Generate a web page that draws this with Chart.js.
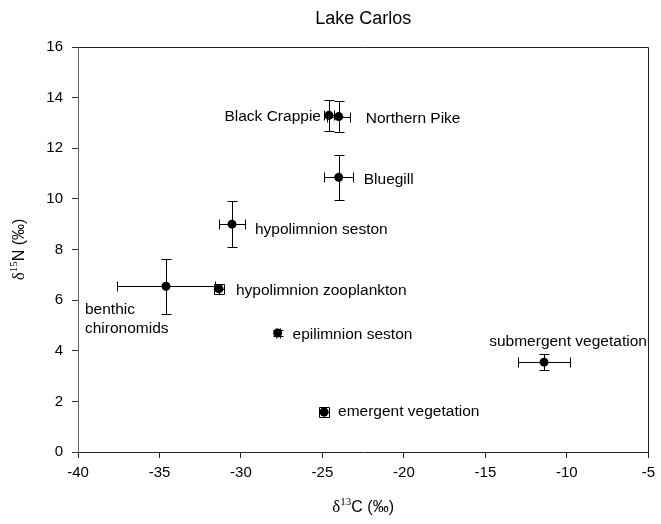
<!DOCTYPE html>
<html>
<head>
<meta charset="utf-8">
<script src="https://cdn.jsdelivr.net/npm/chart.js@4"></script>
<style>
  html, body { margin: 0; padding: 0; background: #fff; }
</style>
</head>
<body>
<canvas id="chart" width="661" height="524"></canvas>
<script>
// stable isotope means and spread per food web compartment
const groups = ['Black Crappie', 'Northern Pike', 'Bluegill', 'hypolimnion seston',
  'benthic\nchironomids', 'hypolimnion zooplankton', 'epilimnion seston',
  'submergent vegetation', 'emergent vegetation'];
const d13C = [-24.6, -24.0, -24.0, -30.55, -34.6, -31.35, -27.75, -11.4, -24.9];
const d15N = [13.3, 13.25, 10.85, 9.0, 6.55, 6.45, 4.7, 3.55, 1.58];
const d13CErr = [0.3, 0.7, 0.9, 0.8, 3.0, 0.3, 0.12, 1.6, 0.3];
const d15NErr = [0.6, 0.6, 0.9, 0.9, 1.08, 0.2, 0.12, 0.33, 0.2];
const xTicks = [-40, -35, -30, -25, -20, -15, -10, -5];
const yTicks = [0, 2, 4, 6, 8, 10, 12, 14, 16];

// where each name sits relative to its point (px)
const labelPlacement = [
  { dx: -8, dy: 1, align: 'right' },
  { dx: 27, dy: 2, align: 'left' },
  { dx: 25, dy: 2, align: 'left' },
  { dx: 23, dy: 6, align: 'left' },
  { dx: -81, dy: 24, align: 'left' },
  { dx: 17, dy: 2, align: 'left' },
  { dx: 15, dy: 2, align: 'left' },
  { dx: 24, dy: -20, align: 'center' },
  { dx: 14, dy: 0, align: 'left' }
];

const SANS = '"Liberation Sans", Arial, sans-serif';
const SERIF = '"Liberation Serif", "Times New Roman", serif';

function drawDeltaTitle(ctx, mass, element, cx, cy) {
  // δ^13C (‰) style label, centred on cx
  const parts = [
    { t: 'δ', font: '17px ' + SERIF, dy: 0 },
    { t: mass, font: '11px ' + SERIF, dy: -6 },
    { t: element + ' (‰)', font: '16px ' + SANS, dy: 0 }
  ];
  let w = 0;
  parts.forEach(p => { ctx.font = p.font; p.w = ctx.measureText(p.t).width; w += p.w; });
  let x = cx - w / 2;
  ctx.textAlign = 'left';
  ctx.textBaseline = 'middle';
  parts.forEach(p => { ctx.font = p.font; ctx.fillText(p.t, x, cy + p.dy); x += p.w; });
}

const decorations = {
  id: 'decorations',
  beforeDatasetsDraw(chart) {
    const { ctx, scales: { x, y } } = chart;
    const cap = 5;
    ctx.save();
    ctx.strokeStyle = '#000';
    ctx.lineWidth = 1;
    d13C.forEach((cx, i) => {
      const px = Math.round(x.getPixelForValue(cx)) + 0.5;
      const py = Math.round(y.getPixelForValue(d15N[i])) + 0.5;
      const x0 = Math.round(x.getPixelForValue(cx - d13CErr[i])) + 0.5;
      const x1 = Math.round(x.getPixelForValue(cx + d13CErr[i])) + 0.5;
      const y0 = Math.round(y.getPixelForValue(d15N[i] + d15NErr[i])) + 0.5;
      const y1 = Math.round(y.getPixelForValue(d15N[i] - d15NErr[i])) + 0.5;
      ctx.beginPath();
      ctx.moveTo(x0, py); ctx.lineTo(x1, py);
      ctx.moveTo(x0, py - cap); ctx.lineTo(x0, py + cap);
      ctx.moveTo(x1, py - cap); ctx.lineTo(x1, py + cap);
      ctx.moveTo(px, y0); ctx.lineTo(px, y1);
      ctx.moveTo(px - cap, y0); ctx.lineTo(px + cap, y0);
      ctx.moveTo(px - cap, y1); ctx.lineTo(px + cap, y1);
      ctx.stroke();
    });
    ctx.restore();
  },
  afterDraw(chart) {
    const { ctx, chartArea: a, scales: { x, y } } = chart;
    ctx.save();
    // closing top and right edges of the frame
    ctx.strokeStyle = '#222';
    ctx.lineWidth = 1;
    ctx.beginPath();
    ctx.moveTo(Math.round(a.left), Math.round(a.top) + 0.5);
    ctx.lineTo(Math.round(a.right) + 0.5, Math.round(a.top) + 0.5);
    ctx.lineTo(Math.round(a.right) + 0.5, Math.round(a.bottom));
    ctx.stroke();

    // point names
    ctx.fillStyle = '#000';
    ctx.font = '15.5px ' + SANS;
    ctx.textBaseline = 'middle';
    groups.forEach((name, i) => {
      const p = labelPlacement[i];
      const px = x.getPixelForValue(d13C[i]) + p.dx;
      const py = y.getPixelForValue(d15N[i]) + p.dy;
      ctx.textAlign = p.align;
      name.split('\n').forEach((line, k) => ctx.fillText(line, px, py + k * 19));
    });

    // title
    ctx.font = '18px ' + SANS;
    ctx.textAlign = 'center';
    ctx.fillText('Lake Carlos', (a.left + a.right) / 2, 19);

    // axis titles
    drawDeltaTitle(ctx, '13', 'C', (a.left + a.right) / 2, 508);
    ctx.translate(20, (a.top + a.bottom) / 2);
    ctx.rotate(-Math.PI / 2);
    drawDeltaTitle(ctx, '15', 'N', 0, 0);
    ctx.restore();
  }
};

new Chart(document.getElementById('chart'), {
  type: 'scatter',
  data: {
    datasets: [{
      data: d13C.map((v, i) => ({ x: v, y: d15N[i] })),
      pointRadius: 4.5,
      pointHoverRadius: 4.5,
      backgroundColor: '#000',
      borderWidth: 0,
      clip: false
    }]
  },
  options: {
    responsive: false,
    animation: false,
    events: [],
    layout: { padding: { top: 47, right: 8, left: 0, bottom: 0 } },
    plugins: { legend: { display: false }, tooltip: { enabled: false }, title: { display: false } },
    scales: {
      x: {
        type: 'linear',
        min: xTicks[0],
        max: xTicks[xTicks.length - 1],
        afterFit(s) { s.height = 72; },
        afterBuildTicks(s) { s.ticks = xTicks.map(v => ({ value: v })); },
        grid: { drawOnChartArea: false, drawTicks: true, tickLength: 6, color: '#222' },
        border: { display: true, color: '#222', width: 1 },
        ticks: { color: '#000', padding: 6, maxRotation: 0, font: { family: SANS, size: 15 } }
      },
      y: {
        type: 'linear',
        min: yTicks[0],
        max: yTicks[yTicks.length - 1],
        afterFit(s) { s.width = 78; },
        afterBuildTicks(s) { s.ticks = yTicks.map(v => ({ value: v })); },
        grid: { drawOnChartArea: false, drawTicks: true, tickLength: 6, color: '#333' },
        border: { display: true, color: '#666', width: 1 },
        ticks: { color: '#000', padding: 9, font: { family: SANS, size: 15 } }
      }
    }
  },
  plugins: [decorations]
});
</script>
</body>
</html>
